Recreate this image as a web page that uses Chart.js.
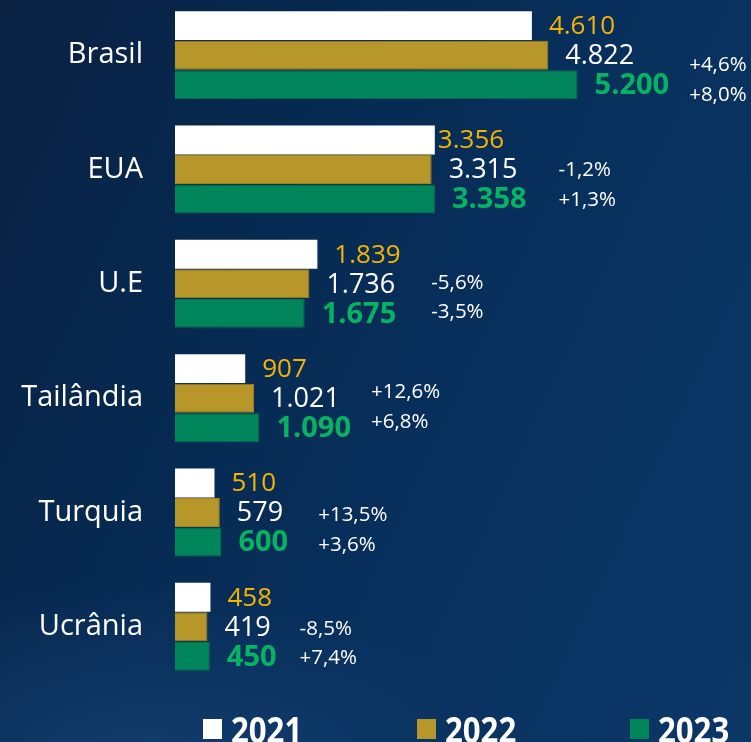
<!DOCTYPE html>
<html><head><meta charset="utf-8">
<script src="https://cdn.jsdelivr.net/npm/chart.js@4.4.1/dist/chart.umd.min.js"></script>
<style>
html,body{margin:0;padding:0;}
body{width:751px;height:742px;overflow:hidden;
background:
 radial-gradient(ellipse 520px 260px at 120px 760px, rgba(40,90,150,0.35), rgba(40,90,150,0) 70%),
 linear-gradient(115deg, #0a2142 0%, #062a52 35%, #08305d 60%, #0b3767 100%);}
#wrap{position:relative;width:751px;height:742px;overflow:hidden;}
#c{position:absolute;left:0;top:-2px;}
</style></head>
<body><div id="wrap"><canvas id="c" width="751" height="746"></canvas></div>
<script>
const categories = ["Brasil","EUA","U.E","Tailândia","Turquia","Ucrânia"];
const seriesNames = ["2021","2022","2023"];
const values2021 = [4610, 3356, 1839, 907, 510, 458];
const values2022 = [4822, 3315, 1736, 1021, 579, 419];
const values2023 = [5200, 3358, 1675, 1090, 600, 450];
const change2022 = ["+4,6%","-1,2%","-5,6%","+12,6%","+13,5%","-8,5%"];
const change2023 = ["+8,0%","+1,3%","-3,5%","+6,8%","+3,6%","+7,4%"];

// label styling / hand placement nudges (not data)
const barColors = ["#ffffff","#b8972a","#01855b"];
const labelColors = ["#f4b400","#ffffff","#05b462"];
const valueFonts = ["26px 'Open Sans'","27px 'Open Sans'","bold 29px 'Open Sans'"];
const label2021NudgeX = [0,-14,0,0,0,0];
const pctNudgeX = [0,12,15,0,10,3];
const pctNudgeY = [9,0,-2,-7,2,1];
const fmt = v => v.toLocaleString("de-DE");

const labelPlugin = {
  id:"labels",
  afterDatasetsDraw(chart){
    const ctx = chart.ctx;
    ctx.save();
    ctx.textBaseline = "middle";
    ctx.textAlign = "left";
    chart.data.datasets.forEach((ds,di)=>{
      const meta = chart.getDatasetMeta(di);
      meta.data.forEach((bar,i)=>{
        ctx.font = valueFonts[di];
        ctx.fillStyle = labelColors[di];
        const nx = di === 0 ? label2021NudgeX[i] : 0;
        ctx.fillText(fmt(ds.data[i]), bar.x + 17 + nx, bar.y + 1);
      });
    });
    const m1 = chart.getDatasetMeta(1), m2 = chart.getDatasetMeta(2);
    categories.forEach((c,i)=>{
      ctx.font = valueFonts[2];
      const gEnd = m2.data[i].x + 17 + ctx.measureText(fmt(values2023[i])).width;
      ctx.font = "20.5px 'Open Sans'";
      ctx.fillStyle = "#ffffff";
      const px = gEnd + 20 + pctNudgeX[i];
      ctx.fillText(change2022[i], px, m1.data[i].y + 1 + pctNudgeY[i]);
      ctx.fillText(change2023[i], px, m2.data[i].y + 1 + pctNudgeY[i]);
    });
    // legend (canvas is shifted up by 2px)
    const lx = [203, 417, 630];
    ctx.textBaseline = "alphabetic";
    ctx.font = "bold 35px 'Open Sans'";
    seriesNames.forEach((n,i)=>{
      ctx.fillStyle = barColors[i];
      ctx.fillRect(lx[i], 721, 19, 20);
      ctx.fillStyle = "#ffffff";
      ctx.save();
      ctx.translate(lx[i] + 28, 745);
      ctx.scale(0.89, 1);
      ctx.fillText(n, 0, 0);
      ctx.restore();
    });
    ctx.restore();
  }
};

new Chart(document.getElementById("c"), {
  type:"bar",
  data:{
    labels: categories,
    datasets:[
      {label:seriesNames[0], data:values2021, backgroundColor:barColors[0]},
      {label:seriesNames[1], data:values2022, backgroundColor:barColors[1], borderColor:"#a0821f", borderWidth:1},
      {label:seriesNames[2], data:values2023, backgroundColor:barColors[2], borderColor:"#0a6e4c", borderWidth:1}
    ]
  },
  options:{
    indexAxis:"y",
    responsive:false,
    animation:false,
    devicePixelRatio:1,
    layout:{padding:{top:0,bottom:60,left:0,right:0}},
    datasets:{bar:{categoryPercentage:0.775, barPercentage:0.98}},
    plugins:{legend:{display:false}, tooltip:{enabled:false}},
    scales:{
      x:{display:false, min:0, max:7440},
      y:{
        grid:{display:false},
        border:{display:false},
        ticks:{color:"#ffffff", font:{family:"'Open Sans'", size:29}, padding:24},
        afterFit(s){ s.width = 175; s.paddingTop = 0; s.paddingBottom = 0; }
      }
    }
  },
  plugins:[labelPlugin]
});
</script></body></html>
